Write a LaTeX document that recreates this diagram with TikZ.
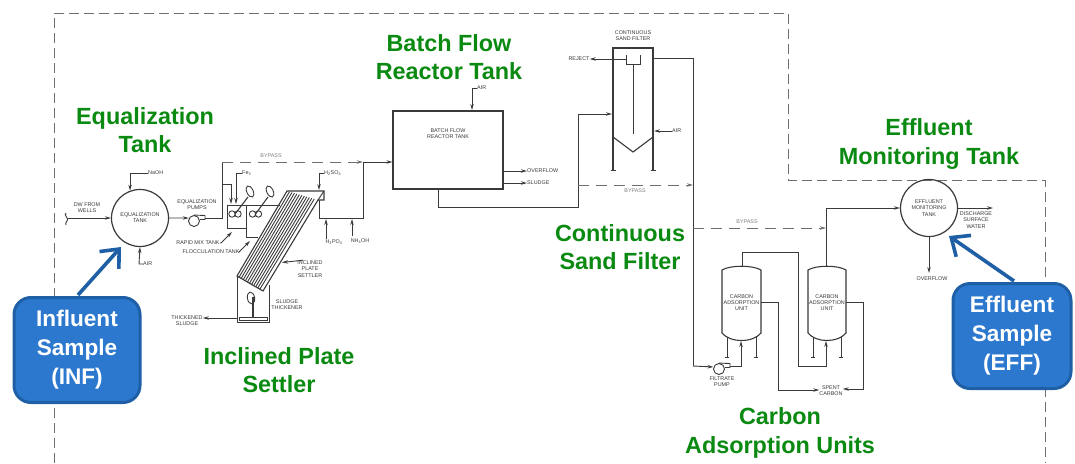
\documentclass[tikz,border=0pt]{standalone}
\usepackage{fontspec}
\setmainfont{Liberation Sans}
\usetikzlibrary{arrows.meta,calc}
\definecolor{ttl}{HTML}{0B8A12}
\definecolor{boxblue}{HTML}{2B78CE}
\definecolor{boxedge}{HTML}{1F5FA6}
\definecolor{ink}{HTML}{3A3A3A}
\definecolor{dash}{HTML}{6E6E6E}
\tikzset{
 pipe/.style={draw=ink,line width=0.9pt},
 flow/.style={pipe,-{Stealth[length=6pt,width=3.4pt]}},
 heavy/.style={draw=ink,line width=1.1pt},
 bypassline/.style={draw=dash,line width=0.9pt,dash pattern=on 11pt off 7pt},
 bypassflow/.style={bypassline,-{Stealth[length=6pt,width=3.4pt]}},
 border/.style={draw=dash,line width=0.9pt,dash pattern=on 10pt off 5pt},
 lbl/.style={text=ink,font=\fontsize{5.4}{6.2}\selectfont,align=center,inner sep=0pt},
 lbll/.style={lbl,anchor=west},
 graylbl/.style={lbl,text=black!50},
 title/.style={text=ttl,font=\fontsize{23.4}{28.2}\selectfont\bfseries,align=center,inner sep=0pt},
 callout/.style={draw=boxedge,line width=3pt,fill=boxblue,rounded corners=17pt,text=white,
   font=\fontsize{22.6}{29}\selectfont\bfseries,align=center,inner sep=0pt},
 calloutarrow/.style={draw=boxedge,line width=3.6pt,-{Straight Barb[length=15pt,width=26pt,line width=3.6pt]}},
 tankc/.style={circle,draw=ink,line width=1.2pt,minimum size=57pt,inner sep=0pt,text=ink,
   font=\fontsize{5.4}{6.2}\selectfont,align=center},
}
\begin{document}
\begin{tikzpicture}[x=1pt,y=-1pt]
\useasboundingbox (0,0) rectangle (1075,463);
\fill[white] (0,0) rectangle (1075,463);

% boundary
\coordinate (b1) at (54,463); \coordinate (b2) at (54,13); \coordinate (b3) at (788,13);
\coordinate (b4) at (788,180); \coordinate (b5) at (1045,180); \coordinate (b6) at (1045,463);
\draw[border] (b1) -- (b2) -- (b3) -- (b4) -- (b5) -- (b6);

% titles
\node[title] (tEq) at (145,130) {Equalization\\Tank};
\node[title] (tBatch) at (449,57) {Batch Flow\\Reactor Tank};
\node[title] (tSand) at (620,247) {Continuous\\Sand Filter};
\node[title] (tPlate) at (279,370) {Inclined Plate\\Settler};
\node[title] (tCarbon) at (780,433) {Carbon\\Adsorption Units};
\node[title] (tEff) at (929,144) {Effluent\\Monitoring Tank};

% equalization tank
\node[tankc] (eq) at (140,218) {EQUALIZATION\\TANK};
\node[lbl] (dw) at (87,208) {DW FROM\\WELLS};
\coordinate (wave) at (68,218);
\draw[pipe] (66,213) .. controls (63,215) and (70,219) .. (67,221) .. controls (66,222) and (65,224) .. (66,225);
\draw[flow] (wave) -- (eq.west);
\node[lbll] (naoh) at (148,173) {NaOH};
\draw[flow] (naoh.west) -| (eq.110);
\node[lbll] (airA) at (143,264) {AIR};
\draw[flow] (airA.west) -- (139,264) -- (eq.south);

% eq pump
\node[lbl] (eqp) at (197,205) {EQUALIZATION\\PUMPS};
\node[circle,draw=ink,line width=0.9pt,minimum size=11pt,inner sep=0pt] (pump1) at (194,221) {};
\draw[pipe] (pump1.north) -- (205,215.5) -- (205,219.5) -- (200,219.5);
\draw[flow] (eq.east) -- (pump1.150);
\coordinate (j1) at (222,218);
\coordinate (j1a) at (222,184);
\coordinate (j1b) at (222,162);
\draw[pipe] (205,218) -- (j1) -- (j1b);

% mix tanks
\node[draw=ink,line width=0.9pt,minimum width=19pt,minimum height=23pt,inner sep=0pt] (rapid) at (236.5,216.5) {};
\draw[pipe] (246,205) -- (280,205);
\draw[pipe] (246,228) -- (246,237) -- (258,237);
\draw[flow] (j1a) -- (231,184) -- (231,204);
\node[lbll] (fe) at (242,173) {Fe\textsubscript{3}};
\draw[flow] (fe.west) -- (236,173) -- (236,204);
\foreach \a/\b/\c in {232/238/250,252.5/258.5/270}{
  \draw[pipe] (\a,214) circle (3.2pt) (\b,214) circle (3.2pt);
  \draw[pipe,line width=1.1pt] (\a+3,214) -- (\c-2,197);
  \draw[pipe] (\c,191.5) ellipse [x radius=3.2pt,y radius=6pt,rotate=25];
}
\node[lbl] (rapidl) at (198,243) {RAPID MIX TANK};
\draw[flow] (rapidl.east) -- (221,243) -- (232,232);
\node[lbl] (flocl) at (211,252) {FLOCCULATION TANK};
\draw[flow] (flocl.east) -- (239,252) -- (250,241);

% inclined plate settler
\coordinate (pa) at (237,276); \coordinate (pb) at (263,291);
\coordinate (pc) at (287,191); \coordinate (pd) at (316,191);
\coordinate (pe) at (318,200);
\draw[heavy] (pb) -- (pa) -- (pc) -- (324,191) -- (324,200) -- (pe) -- cycle;
\draw[pipe] (pe) -- (324,191);
\foreach \t in {0.08,0.16,...,0.95}{
  \draw[pipe] ($(pa)!\t!(pb)$) -- ($(pc)!\t!(pe)$);
}
\node[lbl] (platel) at (310,269) {INCLINED\\PLATE\\SETTLER};
\draw[flow] (platel.130) ++(0,-0.5) -- (282,262.5);

% sludge thickener
\draw[pipe] (pa) -- (237,322) -- (269,322) -- (269,285);
\node[draw=ink,line width=0.8pt,minimum width=28pt,minimum height=3pt,inner sep=0pt] (rake) at (253,318.5) {};
\draw[pipe,line width=1.1pt] (253,317) -- (253,297);
\draw[pipe] (251,298) ellipse [x radius=3.6pt,y radius=6pt,rotate=10];
\node[lbl] (thick) at (287,305) {SLUDGE\\THICKENER};
\node[lbl] (tsl) at (187,321) {THICKENED\\SLUDGE};
\coordinate (tkout) at (237,318);
\draw[flow] (tkout) -- (tsl.east |- tkout);

% bypass to reactor
\coordinate (j2) at (363,162);
\node[graylbl] (by1) at (271,156) {BYPASS};
\draw[bypassflow] (j1b) -- (j2);
\draw[pipe] (319,200) -- (319,218) -- (363,218) -- (j2);
\node[lbll] (h2so4) at (324,173) {H\textsubscript{2}SO\textsubscript{4}};
\draw[flow] (h2so4.west) -- (319,173) -- (319,190);
\node[lbl] (h3po4) at (334,242) {H\textsubscript{3}PO\textsubscript{4}};
\draw[flow] (h3po4.north -| 326,0) -- (326,219);
\node[lbl] (nh4oh) at (360,241) {NH\textsubscript{4}OH};
\draw[flow] (352,236) -- (352,219);

% reactor
\node[draw=ink,line width=1.1pt,minimum width=110pt,minimum height=78pt,inner sep=0pt] (reactor) at (448,150) {};
\node[lbl] at (448,134) {BATCH FLOW\\REACTOR TANK};
\draw[flow] (j2) -- (reactor.west |- j2);
\node[lbll] (air2) at (477,88) {AIR};
\draw[flow] (air2.west) -- (472,88) -- (472,110);
\node[lbll] (over1) at (527,171) {OVERFLOW};
\draw[flow] (reactor.east |- over1) -- (over1.west);
\node[lbll] (slu) at (527,183) {SLUDGE};
\draw[flow] (reactor.east |- slu) -- (slu.west);

% sand filter
\coordinate (j3) at (578,185);
\coordinate (f1) at (613,170); \coordinate (f2) at (653,170);
\draw[heavy] (f1) -- (613,48) -- (653,48) -- (f2);
\draw[heavy] (613,137) -- (633,152) -- (653,137);
\draw[pipe] (610.5,170) -- (615.5,170) (650.5,170) -- (655.5,170);
\draw[pipe] (626,55) -- (626,64) -- (640,64) -- (640,55);
\draw[pipe] (633,64) -- (633,134);
\node[lbl] (sfl) at (633,36) {CONTINUOUS\\SAND FILTER};
\node[lbl] (rej) at (579,59) {REJECT};
\draw[flow] (626,59) -- (rej.east);
\node[lbll] (air3) at (672,131) {AIR};
\draw[flow] (air3.west) -- (654,131);
\draw[pipe] (reactor.south -| 438,0) -- (438,207) -- (578,207) -- (j3);
\draw[flow] (j3) -- (578,114) -- (612,114);
\coordinate (j4) at (693,185);
\coordinate (j5) at (693,228);
\coordinate (j6) at (693,366);
\draw[pipe] (653,58) -- (693,58) -- (j6);
\draw[bypassflow] (j3) -- (j4);
\node[graylbl] (by2) at (635,191) {BYPASS};

% carbon tanks
\foreach \n/\l/\r in {t1/722/761,t2/808/846}{
  \draw[heavy] (\l,333) -- (\l,270) .. controls (\l+8,265) and (\r-8,265) .. (\r,270) -- (\r,333)
     .. controls (\r-8,343) and (\l+8,343) .. (\l,333);
  \draw[pipe] (\l+5,337) -- (\l+5,357) (\l+3,357) -- (\l+7,357);
  \draw[pipe] (\r-5,337) -- (\r-5,357) (\r-7,357) -- (\r-3,357);
  \node[lbl] at ({(\l+\r)/2},302.5) {CARBON\\ADSORPTION\\UNIT};
}
\coordinate (t1in) at (741,341); \coordinate (t2in) at (826,341);
\coordinate (t2top) at (826,266);
\node[circle,draw=ink,line width=0.9pt,minimum size=11pt,inner sep=0pt] (pump2) at (719,369) {};
\draw[pipe] (pump2.north) -- (730,363.5) -- (730,367.5) -- (725,367.5);
\draw[flow] (j6) -- (pump2.160);
\draw[flow] (730,366) -- (741,366) -- (t1in);
\node[lbl] (fp) at (722,382) {FILTRATE\\PUMP};
\draw[flow] (742,266) -- (742,252) -- (798,252) -- (798,366) -- (826,366) -- (t2in);
\node[lbl] (spent) at (831,391) {SPENT\\CARBON};
\draw[flow] (761,302) -- (778,302) -- (778,390) -- (spent.west |- 0,390);
\draw[flow] (846,302) -- (863,302) -- (863,389) -- (spent.east |- 0,389);

% effluent tank
\node[tankc] (eff) at (929,208) {EFFLUENT\\MONITORING\\TANK};
\draw[bypassflow] (j5) -- (826,228);
\node[graylbl] (by3) at (747,222) {BYPASS};
\draw[flow] (t2top) -- (826,208) -- (eff.west);
\coordinate (disc) at (993,208);
\draw[flow] (eff.east) -- (disc);
\node[lbl] (discl) at (976,220) {DISCHARGE\\SURFACE\\WATER};
\node[lbl] (over2) at (932,279) {OVERFLOW};
\draw[flow] (eff.south) -- (929,273);

% callouts
\node[callout,minimum width=126pt,minimum height=105pt] (inf) at (77,350) {Influent\\Sample\\(INF)};
\node[callout,minimum width=118pt,minimum height=105pt] (effb) at (1012,336) {Effluent\\Sample\\(EFF)};
\coordinate (inftip) at (121,247);
\coordinate (efftip) at (949,236);
\draw[calloutarrow] (78,295) -- (inftip);
\draw[calloutarrow] (1014,281) -- (efftip);
\end{tikzpicture}
\end{document}
